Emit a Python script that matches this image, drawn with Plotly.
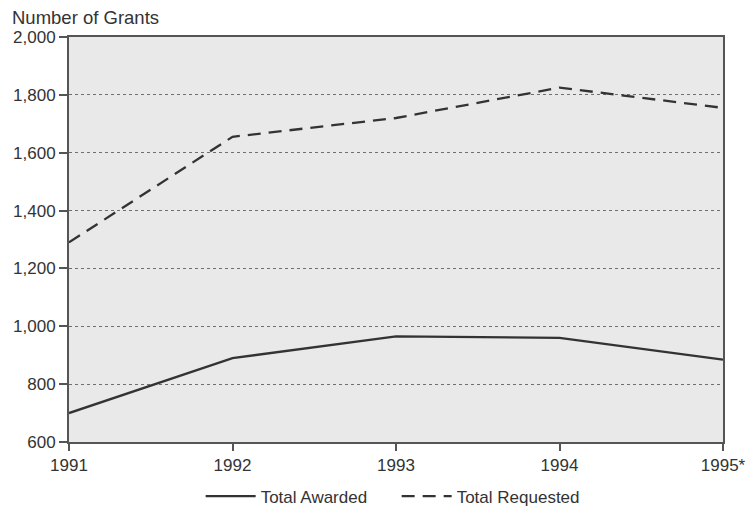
import plotly.graph_objects as go

years = [1991, 1992, 1993, 1994, 1995]
year_labels = ["1991", "1992", "1993", "1994", "1995*"]
total_awarded = [700, 890, 965, 960, 885]
total_requested = [1290, 1655, 1720, 1825, 1755]
y_ticks = [600, 800, 1000, 1200, 1400, 1600, 1800, 2000]
y_tick_labels = ["600", "800", "1,000", "1,200", "1,400", "1,600", "1,800", "2,000"]

line_color = "#333333"
fig = go.Figure()
fig.add_trace(go.Scatter(x=years, y=total_awarded, mode="lines", name="Total Awarded",
                         line=dict(color=line_color, width=2.3, dash="solid")))
fig.add_trace(go.Scatter(x=years, y=total_requested, mode="lines", name="Total Requested",
                         line=dict(color=line_color, width=2.3, dash="13px,8px")))

# page body has an 8px default margin, so the figure is sized/offset accordingly
fig.update_layout(
    width=745, height=507,
    margin=dict(l=61, r=30, t=29, b=73, autoexpand=False),
    paper_bgcolor="white",
    plot_bgcolor="#e9e9e9",
    font=dict(family="Liberation Sans, Arial, sans-serif", size=17, color="#333333"),
    showlegend=True,
    legend=dict(orientation="h", x=0.501, xanchor="center", y=-0.135, yanchor="middle",
                font=dict(size=17), itemwidth=50, entrywidth=131, bgcolor="rgba(0,0,0,0)"),
    annotations=[dict(text="Number of Grants", xref="paper", yref="paper", x=-0.09, y=1.0,
                      xanchor="left", yanchor="bottom", yshift=7, showarrow=False,
                      font=dict(size=18.5, color="#333333"))],
)
fig.update_xaxes(range=[1991, 1995], tickvals=years, ticktext=year_labels, automargin=False,
                 showgrid=False, zeroline=False, showline=True, linecolor="#555555", linewidth=2,
                 mirror=True, ticks="outside", ticklen=7, tickcolor="#555555", tickwidth=1.5,
                 tickfont=dict(size=17))
fig.update_yaxes(range=[600, 2000], tickvals=y_ticks, ticktext=y_tick_labels, automargin=False,
                 showgrid=True, gridcolor="#6f6f6f", griddash="dot", gridwidth=1,
                 zeroline=False, showline=True, linecolor="#555555", linewidth=2,
                 mirror=True, ticks="outside", ticklen=8, tickcolor="#555555", tickwidth=1.5,
                 tickfont=dict(size=17))

fig.write_html("out.html")
